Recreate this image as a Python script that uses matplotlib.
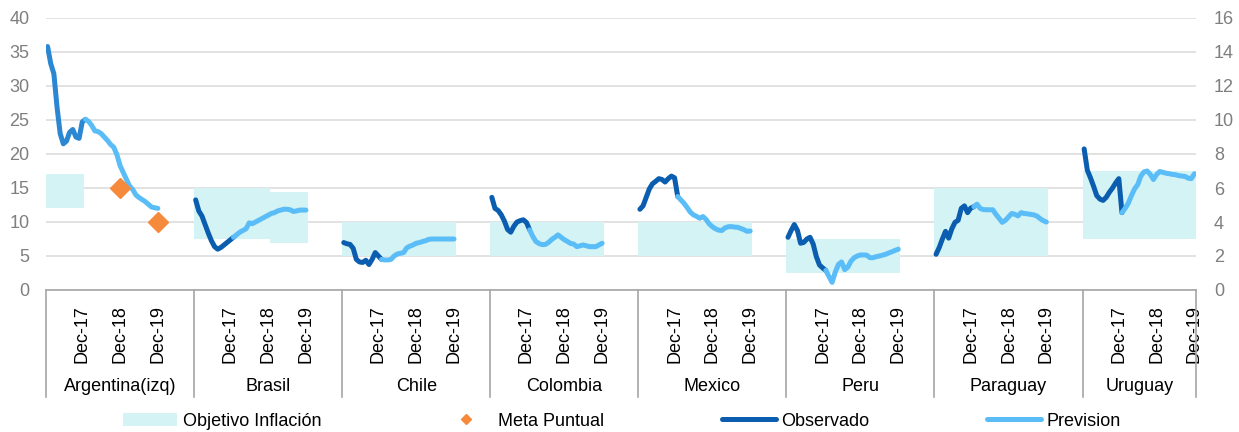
import matplotlib.pyplot as plt
from matplotlib.lines import Line2D
from matplotlib.patches import Patch
import numpy as np

plt.rcParams["font.family"] = ["Liberation Sans", "DejaVu Sans"]

# monthly inflation, Jan-17 .. Dec-19 (36 months); first 13 observed, rest forecast
countries = ["Argentina(izq)", "Brasil", "Chile", "Colombia", "Mexico", "Peru", "Paraguay", "Uruguay"]
ticklabels = ["Dec-17", "Dec-18", "Dec-19"]

arg = [35.8, 33.3, 31.8, 26.9, 23.0, 21.5, 21.9, 23.2, 23.6, 22.5, 22.3, 24.7,
       25.1, 24.8, 24.2, 23.4, 23.3, 23.0, 22.5, 22.0, 21.4, 21.0, 19.9, 18.3,
       17.3, 16.3, 15.3, 14.8, 14.0, 13.6, 13.3, 13.0, 12.6, 12.2, 12.1, 12.0]
bra = [5.3, 4.65, 4.35, 3.85, 3.35, 2.9, 2.55, 2.4, 2.5, 2.65, 2.8, 2.95,
       3.1, 3.25, 3.4, 3.5, 3.6, 3.95, 3.9, 4.0, 4.1, 4.2, 4.3, 4.4,
       4.5, 4.55, 4.65, 4.7, 4.75, 4.75, 4.72, 4.62, 4.65, 4.7, 4.7, 4.7]
chl = [2.79, 2.72, 2.68, 2.45, 1.8, 1.65, 1.62, 1.75, 1.5, 1.8, 2.2, 2.0,
       1.8, 1.77, 1.77, 1.8, 2.0, 2.12, 2.16, 2.2, 2.48, 2.58, 2.65, 2.75,
       2.79, 2.85, 2.9, 2.98, 3.0, 3.0, 3.0, 3.0, 3.0, 3.0, 3.0, 3.0]
col = [5.45, 4.8, 4.68, 4.42, 4.05, 3.56, 3.4, 3.75, 4.0, 4.08, 4.13, 3.97,
       3.54, 3.15, 2.85, 2.73, 2.67, 2.68, 2.8, 2.97, 3.1, 3.24, 3.1, 2.96,
       2.85, 2.74, 2.7, 2.55, 2.6, 2.65, 2.6, 2.55, 2.55, 2.55, 2.65, 2.75]
mex = [4.75, 4.95, 5.45, 5.95, 6.25, 6.39, 6.55, 6.5, 6.35, 6.55, 6.7, 6.6,
       5.5, 5.3, 5.1, 4.85, 4.58, 4.42, 4.33, 4.22, 4.32, 4.15, 3.89, 3.72,
       3.6, 3.52, 3.5, 3.65, 3.72, 3.73, 3.7, 3.69, 3.62, 3.55, 3.45, 3.47]
per = [3.1, 3.5, 3.85, 3.5, 2.75, 2.8, 3.0, 3.1, 2.7, 1.96, 1.47, 1.3,
       1.15, 0.8, 0.45, 1.05, 1.5, 1.65, 1.2, 1.35, 1.7, 1.9, 2.0, 2.06,
       2.06, 2.05, 1.9, 1.9, 1.96, 2.0, 2.05, 2.1, 2.18, 2.25, 2.33, 2.4]
pry = [2.1, 2.5, 3.0, 3.45, 3.05, 3.6, 3.98, 4.1, 4.8, 4.95, 4.55, 4.82,
       4.9, 5.05, 4.8, 4.73, 4.72, 4.72, 4.72, 4.45, 4.22, 3.98, 4.1, 4.3,
       4.5, 4.45, 4.36, 4.55, 4.5, 4.48, 4.45, 4.42, 4.35, 4.2, 4.08, 4.0]
ury = [8.3, 7.05, 6.6, 6.1, 5.55, 5.35, 5.27, 5.45, 5.75, 6.0, 6.3, 6.55,
       4.55, 4.8, 5.1, 5.55, 5.95, 6.2, 6.7, 6.95, 7.0, 6.8, 6.5, 6.8,
       6.97, 6.92, 6.87, 6.84, 6.8, 6.78, 6.73, 6.7, 6.68, 6.58, 6.55, 6.84]
series = [arg, bra, chl, col, mex, per, pry, ury]
n_obs = 13

# target ranges per year (2017, 2018, 2019); None = no range
band_lo = [[12, None, None], [3, 3, 2.75], [2, 2, 2], [2, 2, 2], [2, 2, 2], [1, 1, 1], [2, 2, 2], [3, 3, 3]]
band_hi = [[17, None, None], [6, 6, 5.75], [4, 4, 4], [4, 4, 4], [4, 4, 4], [3, 3, 3], [6, 6, 6], [7, 7, 7]]

# point targets for Argentina (Dec-18, Dec-19)
meta_month = [23, 35]
meta_val = [15, 10]

group = 47
c_band = "#D3F3F5"
c_obs = "#0B5DAF"
c_obs_arg = "#2B87D1"
c_prev = "#5BBDF7"
c_meta = "#F58A3C"
c_grid = "#DDDDDD"
c_axis = "#A6A6A6"
c_tick = "#7F7F7F"

fig = plt.figure(figsize=(12.39, 4.32), dpi=100)
ax = fig.add_axes([46 / 1239, 1 - 290 / 432, 1150 / 1239, 272 / 432])
ax2 = ax.twinx()

months = np.arange(36)
for g, vals in enumerate(series):
    a = ax if g == 0 else ax2
    x = g * group + months
    # target band as stacked columns
    for yr in range(3):
        lo, hi = band_lo[g][yr], band_hi[g][yr]
        if lo is None:
            continue
        xs = x[yr * 12:(yr + 1) * 12]
        a.bar(xs, hi - lo, bottom=lo, width=1.0, color=c_band, lw=0, zorder=1)
    v = np.array(vals)
    a.plot(x[:n_obs], v[:n_obs], color=c_obs_arg if g == 0 else c_obs, lw=3.6,
           solid_capstyle="round", solid_joinstyle="round", zorder=3)
    a.plot(x[n_obs - 1:], v[n_obs - 1:], color=c_prev, lw=3.6,
           solid_capstyle="round", solid_joinstyle="round", zorder=4)

ax.plot(meta_month, meta_val, ls="none", marker="D", ms=10, color=c_meta, zorder=5)

ax.set_xlim(-0.5, 7 * group + 35.5)
ax.set_ylim(0, 40)
ax2.set_ylim(0, 16)
ax.set_yticks(np.arange(0, 41, 5))
ax2.set_yticks(np.arange(0, 17, 2))
ax.yaxis.grid(True, color=c_grid, lw=1.2)
ax.set_axisbelow(True)

for a in (ax, ax2):
    for s in ("top", "left", "right"):
        a.spines[s].set_visible(False)
ax2.spines["bottom"].set_visible(False)
ax.spines["bottom"].set_color(c_axis)
ax.spines["bottom"].set_linewidth(1.2)

ax.tick_params(axis="y", length=0, pad=12, labelsize=13, labelcolor=c_tick)
ax2.tick_params(axis="y", length=0, pad=13, labelsize=13, labelcolor=c_tick)

xt = [g * group + m for g in range(len(countries)) for m in (11, 23, 35)]
ax.set_xticks(xt)
ax.set_xticklabels(ticklabels * len(countries), rotation=90, fontsize=13)
ax.tick_params(axis="x", length=0, pad=11)

# group separators and country names
trans = ax.get_xaxis_transform()
edges = [g * group - 0.5 for g in range(len(countries))] + [7 * group + 35.5]
for e in edges:
    ax.plot([e, e], [0, -0.395], transform=trans, color=c_axis, lw=1.2, clip_on=False)
for g, name in enumerate(countries):
    right = edges[g + 1]
    ax.text((edges[g] + right) / 2, -0.355, name, transform=trans, ha="center",
            va="center", fontsize=13)

handles = [
    Patch(facecolor=c_band, edgecolor="none"),
    Line2D([], [], ls="none", marker="D", ms=5, color=c_meta),
    Line2D([], [], color=c_obs, lw=3.6, solid_capstyle="round"),
    Line2D([], [], color=c_prev, lw=3.6, solid_capstyle="round"),
]
fig.legend(handles, ["Objetivo Inflación", "Meta Puntual", "Observado", "Prevision"],
           loc="center", bbox_to_anchor=(0.502, 1 - 421 / 432), ncol=4, frameon=False,
           fontsize=13, handlelength=3.0, handletextpad=0.3, columnspacing=6.5)

fig.savefig("out.png", dpi=100)
